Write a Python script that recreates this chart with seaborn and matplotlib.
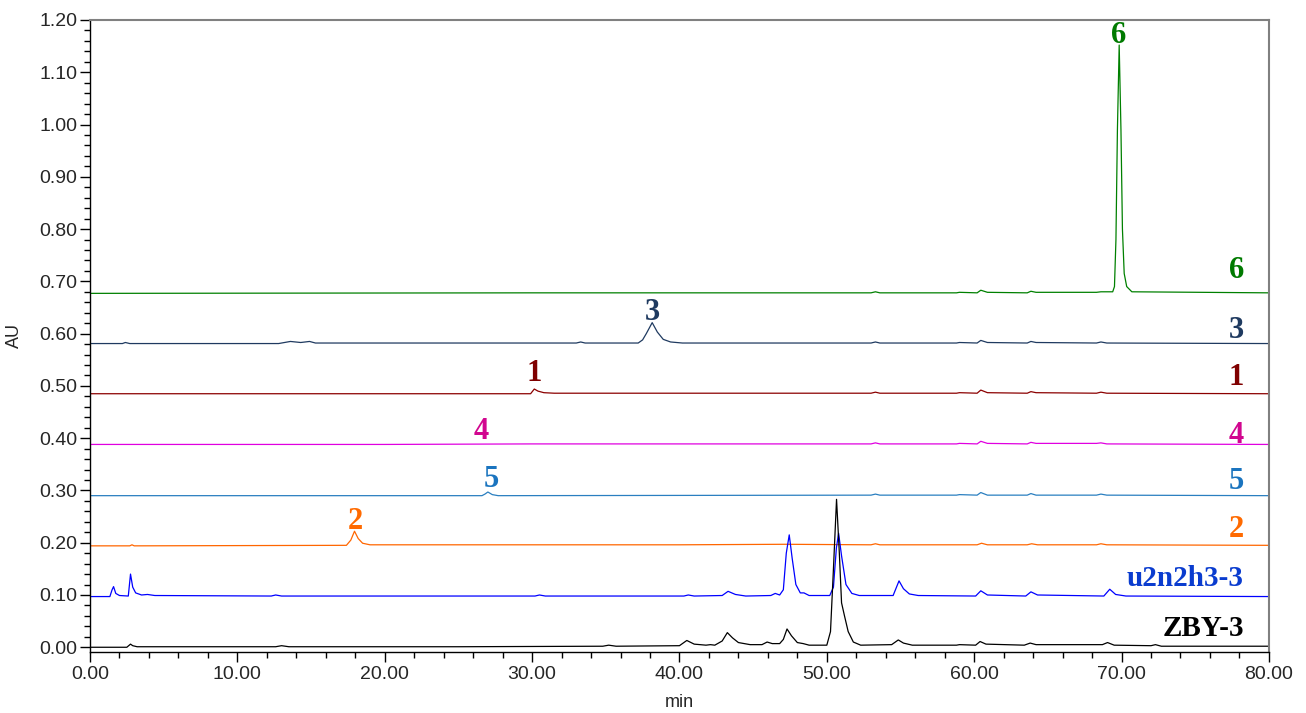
import numpy as np
import pandas as pd
import matplotlib
matplotlib.use("Agg")
import matplotlib.pyplot as plt
from matplotlib.ticker import MultipleLocator, FormatStrFormatter
import seaborn as sns

# chromatogram traces, (time [min], absorbance [AU])
zby3 = [(0, 0.000), (2.5, 0.000), (2.75, 0.006), (2.9, 0.003), (3.2, 0.001), (12.6, 0.001), (13.0, 0.003),
        (13.5, 0.001), (25, 0.001), (34.8, 0.002), (35.2, 0.004), (35.7, 0.002), (40.0, 0.003), (40.5, 0.013),
        (41.0, 0.006), (41.8, 0.004), (42.1, 0.005), (42.4, 0.004), (42.9, 0.012), (43.25, 0.028), (43.6, 0.018),
        (44.0, 0.009), (44.8, 0.005), (45.6, 0.005), (45.95, 0.010), (46.3, 0.007), (46.8, 0.007), (47.05, 0.015),
        (47.3, 0.035), (47.6, 0.022), (48.0, 0.009), (48.4, 0.007), (48.8, 0.004), (50.0, 0.004), (50.25, 0.030),
        (50.45, 0.150), (50.66, 0.283), (50.85, 0.180), (51.0, 0.085), (51.2, 0.060), (51.45, 0.030), (51.8, 0.010),
        (52.3, 0.004), (54.4, 0.005), (54.85, 0.014), (55.2, 0.008), (55.8, 0.004), (58.8, 0.004), (59.0, 0.005),
        (60.1, 0.004), (60.4, 0.011), (60.8, 0.006), (63.4, 0.004), (63.8, 0.008), (64.2, 0.005), (68.7, 0.005),
        (69.05, 0.009), (69.5, 0.004), (72.0, 0.003), (72.3, 0.005), (72.7, 0.002), (80, 0.002)]
u2n2h3 = [(0, 0.097), (1.35, 0.097), (1.5, 0.110), (1.6, 0.116), (1.75, 0.103), (2.0, 0.099), (2.6, 0.098),
          (2.75, 0.140), (2.9, 0.115), (3.1, 0.104), (3.5, 0.100), (3.9, 0.101), (4.4, 0.099), (12.3, 0.098),
          (12.6, 0.100), (13.0, 0.098), (30.2, 0.098), (30.5, 0.100), (30.9, 0.098), (40.3, 0.098), (40.6, 0.100),
          (41.0, 0.098), (42.9, 0.099), (43.3, 0.107), (43.8, 0.101), (44.5, 0.098), (46.2, 0.099), (46.5, 0.103),
          (46.8, 0.100), (47.05, 0.110), (47.25, 0.180), (47.45, 0.215), (47.65, 0.170), (47.9, 0.120),
          (48.2, 0.104), (48.45, 0.104), (48.8, 0.099), (50.2, 0.099), (50.45, 0.115), (50.65, 0.190),
          (50.8, 0.218), (51.0, 0.175), (51.3, 0.120), (51.7, 0.103), (52.2, 0.099), (54.5, 0.099), (54.9, 0.127),
          (55.2, 0.112), (55.6, 0.102), (56.2, 0.099), (60.1, 0.098), (60.45, 0.108), (60.9, 0.100), (63.5, 0.098),
          (63.85, 0.106), (64.3, 0.100), (68.8, 0.098), (69.2, 0.111), (69.6, 0.101), (70.3, 0.098), (80, 0.097)]
std2 = [(0, 0.194), (2.7, 0.194), (2.85, 0.196), (3.0, 0.194), (17.4, 0.195), (17.7, 0.205), (17.95, 0.222),
        (18.2, 0.208), (18.5, 0.199), (19.0, 0.196), (40, 0.196), (47.2, 0.197), (53.0, 0.196), (53.3, 0.198),
        (53.6, 0.196), (60.2, 0.196), (60.5, 0.199), (60.9, 0.196), (63.6, 0.196), (63.9, 0.198), (64.3, 0.196),
        (68.3, 0.196), (68.6, 0.198), (69.0, 0.196), (80, 0.195)]
std5 = [(0, 0.290), (26.6, 0.290), (26.8, 0.293), (27.0, 0.297), (27.3, 0.292), (27.7, 0.290), (53.0, 0.291),
        (53.3, 0.293), (53.6, 0.291), (58.8, 0.291), (59.0, 0.292), (60.2, 0.291), (60.45, 0.296), (60.9, 0.291),
        (63.6, 0.291), (63.85, 0.294), (64.2, 0.291), (68.3, 0.291), (68.6, 0.293), (69.0, 0.291), (80, 0.290)]
std4 = [(0, 0.388), (20, 0.388), (30, 0.389), (40, 0.389), (53.0, 0.389), (53.3, 0.391), (53.6, 0.389),
        (58.8, 0.389), (59.0, 0.390), (60.2, 0.389), (60.45, 0.394), (60.9, 0.390), (63.6, 0.389), (63.85, 0.392),
        (64.2, 0.390), (68.3, 0.390), (68.6, 0.391), (69.0, 0.389), (80, 0.388)]
std1 = [(0, 0.485), (29.9, 0.485), (30.15, 0.494), (30.4, 0.490), (30.8, 0.487), (31.5, 0.486), (53.0, 0.486),
        (53.3, 0.488), (53.6, 0.486), (58.8, 0.486), (59.0, 0.487), (60.2, 0.486), (60.45, 0.492), (60.9, 0.487),
        (63.6, 0.486), (63.85, 0.489), (64.2, 0.487), (68.3, 0.486), (68.6, 0.488), (69.0, 0.486), (80, 0.485)]
std3 = [(0, 0.581), (2.2, 0.581), (2.4, 0.583), (2.7, 0.581), (12.8, 0.581), (13.6, 0.585), (14.3, 0.583),
        (14.9, 0.585), (15.3, 0.582), (33.0, 0.582), (33.3, 0.584), (33.6, 0.582), (37.2, 0.582), (37.5, 0.588),
        (37.75, 0.600), (38.15, 0.621), (38.5, 0.603), (38.9, 0.589), (39.4, 0.584), (40.2, 0.582), (53.0, 0.582),
        (53.3, 0.584), (53.6, 0.582), (58.8, 0.582), (59.0, 0.583), (60.2, 0.582), (60.45, 0.587), (60.9, 0.583),
        (63.6, 0.582), (63.85, 0.585), (64.2, 0.583), (68.3, 0.582), (68.6, 0.584), (69.0, 0.582), (80, 0.581)]
std6 = [(0, 0.677), (30, 0.678), (53.0, 0.678), (53.3, 0.680), (53.6, 0.678), (58.8, 0.678), (59.0, 0.679),
        (60.2, 0.678), (60.45, 0.683), (60.9, 0.679), (63.6, 0.678), (63.85, 0.681), (64.2, 0.679), (68.3, 0.679),
        (68.6, 0.680), (69.4, 0.680), (69.52, 0.690), (69.62, 0.780), (69.72, 0.990), (69.84, 1.152),
        (69.96, 0.990), (70.06, 0.800), (70.18, 0.715), (70.35, 0.690), (70.7, 0.680), (80, 0.678)]

names = ["6", "3", "1", "4", "5", "2", "u2n2h3-3", "ZBY-3"]
traces = [std6, std3, std1, std4, std5, std2, u2n2h3, zby3]
line_colors = ["#008000", "#1f3a60", "#8b0000", "#e000e0", "#2a7fc0", "#ff6600", "#0000ff", "#000000"]
text_colors = ["#007a00", "#1f3a60", "#7f0000", "#d1068f", "#1a74bf", "#ff6a00", "#0a3ccf", "#000000"]

# labels at right end of each trace (baseline y)
right_label_y = [0.707, 0.592, 0.502, 0.390, 0.302, 0.210, 0.117, 0.022]
right_label_x = 78.3

# peak labels: name, x centre, baseline y
peak_names = ["6", "3", "1", "4", "5", "2"]
peak_x = [69.8, 38.15, 30.15, 26.58, 27.25, 18.03]
peak_y = [1.156, 0.626, 0.510, 0.398, 0.3065, 0.226]

rows = []
for nm, tr in zip(names, traces):
    for t, a in tr:
        rows.append((nm, t, a))
df = pd.DataFrame(rows, columns=["trace", "min", "AU"])

sns.set_style("ticks")
plt.rcParams['font.family'] = ['Liberation Sans', 'DejaVu Sans']

fig = plt.figure(figsize=(13.06, 7.13), dpi=100)
ax = fig.add_axes([0.0689, 0.0856, 0.9027, 0.8864])

sns.lineplot(data=df, x="min", y="AU", hue="trace", hue_order=names,
             palette=dict(zip(names, line_colors)), estimator=None, sort=False,
             legend=False, linewidth=0.9, ax=ax)

serif = ['Liberation Serif', 'DejaVu Serif']
for nm, yy, c in zip(names, right_label_y, text_colors):
    ax.text(right_label_x, yy, nm, ha="right", va="baseline", color=c,
            fontsize=22 if len(nm) == 1 else 21, fontweight="bold", family=serif)
for nm, xx, yy in zip(peak_names, peak_x, peak_y):
    c = text_colors[names.index(nm)]
    ax.text(xx, yy, nm, ha="center", va="baseline", color=c,
            fontsize=22, fontweight="bold", family=serif)

ax.set_xlim(0, 80)
ax.set_ylim(-0.009, 1.2)
ax.xaxis.set_major_locator(MultipleLocator(10))
ax.xaxis.set_minor_locator(MultipleLocator(2))
ax.yaxis.set_major_locator(MultipleLocator(0.1))
ax.yaxis.set_minor_locator(MultipleLocator(0.02))
ax.xaxis.set_major_formatter(FormatStrFormatter("%.2f"))
ax.yaxis.set_major_formatter(FormatStrFormatter("%.2f"))
ax.tick_params(which="major", direction="out", length=7, width=1, labelsize=14, pad=2, color="black")
ax.tick_params(which="minor", direction="out", length=4, width=1, color="black")
ax.tick_params(axis="x", which="major", pad=3)

for s in ["left", "bottom"]:
    ax.spines[s].set_color("black")
    ax.spines[s].set_linewidth(1.0)
for s in ["top", "right"]:
    ax.spines[s].set_color("#808080")
    ax.spines[s].set_linewidth(1.5)

ax.set_xlabel("min", fontsize=13, labelpad=8)
ax.set_ylabel("AU", fontsize=13, labelpad=12)

fig.savefig("out.png", dpi=100)
